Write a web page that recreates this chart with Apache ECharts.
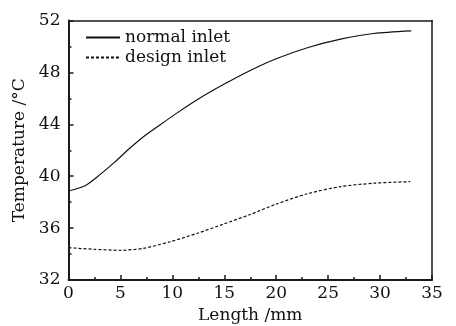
<!DOCTYPE html>
<html><head><meta charset="utf-8">
<script src="https://cdn.jsdelivr.net/npm/echarts@6/dist/echarts.min.js"></script>
<style>html,body{margin:0;padding:0;background:#fff}#c{width:456px;height:326px}</style>
</head><body><div id="c"></div>
<script>
var normalX = [0, 1.6, 3.0, 4.5, 5.9, 7.4, 8.8, 10.5, 12.5, 15.0, 17.5, 20.0, 23.0, 26.2, 29.4, 33.0];
var normalY = [38.86, 39.27, 40.1, 41.12, 42.15, 43.15, 43.95, 44.9, 45.95, 47.1, 48.15, 49.05, 49.9, 50.56, 51.0, 51.2];
var designX = [0, 2.4, 5.0, 7.2, 9.8, 12.4, 14.9, 17.5, 20.0, 23.0, 26.2, 29.4, 32.9];
var designY = [34.49, 34.37, 34.29, 34.44, 34.95, 35.6, 36.3, 37.05, 37.85, 38.65, 39.2, 39.46, 39.58];
var seriesNames = ['normal inlet', 'design inlet'];
var xTitle = 'Length /mm';
var yTitle = 'Temperature /\u00B0C';

function pairs(xs, ys){ return xs.map(function(x,i){ return [x, ys[i]]; }); }
var font = 'DejaVu Serif';
var col = '#1a1a1a';
var chart = echarts.init(document.getElementById('c'), null, {renderer:'canvas'});
chart.setOption({
  animation: false,
  textStyle: {fontFamily: font},
  grid: {left: 68.5, right: 24, top: 20.5, bottom: 46, containLabel: false, outerBoundsMode: 'none'},
  legend: {
    orient: 'vertical', left: 80, top: 24, itemWidth: 34, itemHeight: 12, itemGap: 3,
    textStyle: {fontFamily: font, fontSize: 17, color: '#111'},
    itemStyle: {color: 'transparent', borderColor: 'transparent', borderWidth: 0},
    data: seriesNames
  },
  xAxis: [
    {type: 'value', min: 0, max: 35, interval: 5, position: 'bottom',
      name: xTitle, nameLocation: 'middle', nameGap: 25,
      nameTextStyle: {fontFamily: font, fontSize: 17, color: '#111'},
      axisLine: {show: true, onZero: false, lineStyle: {color: col, width: 2}},
      axisTick: {show: true, inside: true, length: 5, lineStyle: {color: col, width: 1.5}},
      minorTick: {show: true, splitNumber: 2, length: 3, lineStyle: {color: col, width: 1.5}},
      axisLabel: {fontFamily: font, fontSize: 17, color: '#111', margin: 5},
      splitLine: {show: false}},
    {type: 'value', min: 0, max: 35, position: 'top', axisLine: {show: true, onZero: false, lineStyle: {color: col, width: 1.5}},
     axisTick: {show: false}, axisLabel: {show: false}, splitLine: {show: false}}
  ],
  yAxis: [
    {type: 'value', min: 32, max: 52, interval: 4, position: 'left',
      name: yTitle, nameLocation: 'middle', nameGap: 33, nameRotate: 90,
      nameTextStyle: {fontFamily: font, fontSize: 17, color: '#111'},
      axisLine: {show: true, onZero: false, lineStyle: {color: col, width: 2}},
      axisTick: {show: true, inside: true, length: 5, lineStyle: {color: col, width: 1.5}},
      minorTick: {show: true, splitNumber: 2, length: 3, lineStyle: {color: col, width: 1.5}},
      axisLabel: {fontFamily: font, fontSize: 17, color: '#111', margin: 8},
      splitLine: {show: false}},
    {type: 'value', min: 32, max: 52, position: 'right', axisLine: {show: true, onZero: false, lineStyle: {color: col, width: 1.5}},
     axisTick: {show: false}, axisLabel: {show: false}, splitLine: {show: false}}
  ],
  series: [
    {name: seriesNames[0], type: 'line', data: pairs(normalX, normalY), smooth: 0.25, symbol: 'none',
     lineStyle: {color: '#111', width: 1.2, type: 'solid'}, itemStyle: {color: '#111'}},
    {name: seriesNames[1], type: 'line', data: pairs(designX, designY), smooth: 0.25, symbol: 'none',
     lineStyle: {color: '#111', width: 1.2, type: [3, 2]}, itemStyle: {color: '#111'}}
  ]
});
</script></body></html>
